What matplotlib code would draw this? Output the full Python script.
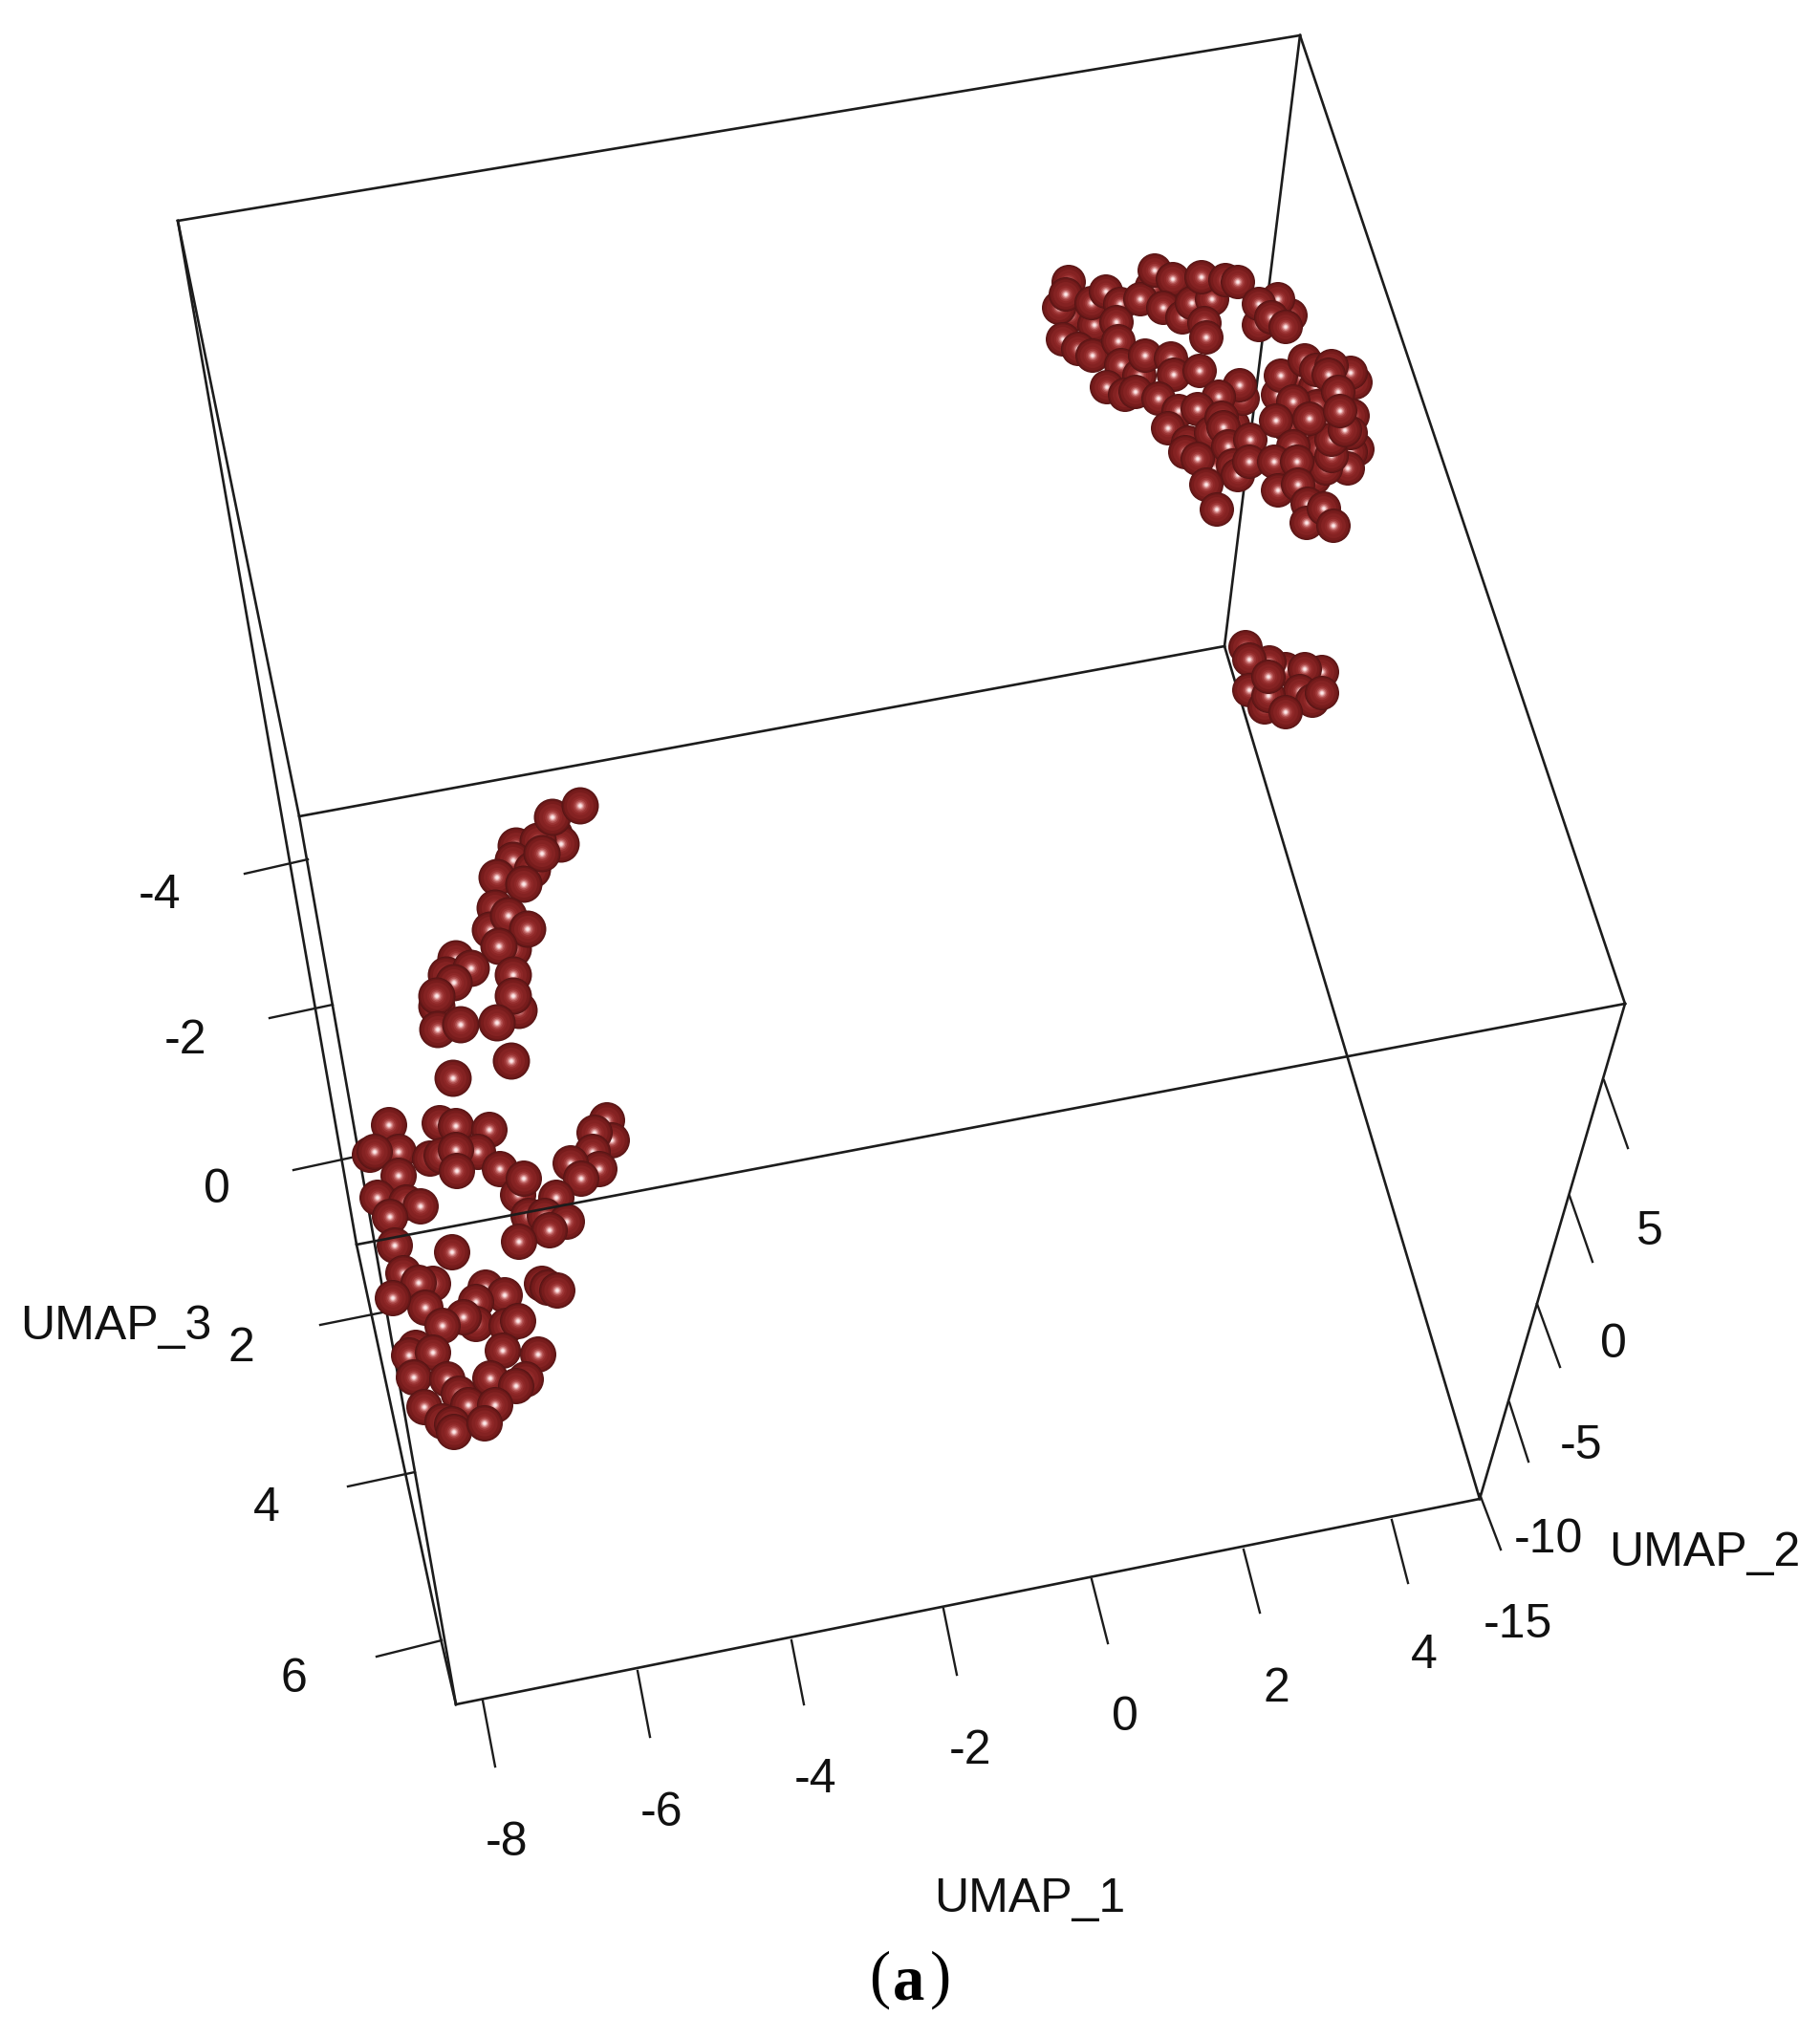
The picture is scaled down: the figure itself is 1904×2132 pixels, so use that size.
import numpy as np
import matplotlib
matplotlib.use('Agg')
import matplotlib.pyplot as plt

# the scene is a projected 3D plot, so everything is read in picture pixels
cluster_a_x = [1400, 1385, 1405, 1415, 1370, 1355, 1385, 1395, 1370, 1405, 1350, 1362, 1376, 1386, 1365, 1347, 1380,
               1375, 1400, 1418, 1420, 1398, 1378, 1240, 1252, 1268, 1265, 1270, 1290, 1262, 1325, 1340, 1205, 1120,
               1155, 1108, 1118, 1115, 1145, 1142, 1157, 1172, 1168, 1112, 1128, 1143, 1170, 1173, 1193, 1208, 1227,
               1217, 1237, 1247, 1268, 1257, 1282, 1295, 1260, 1262, 1350, 1337, 1317, 1317, 1330, 1345, 1192, 1198,
               1225, 1228, 1255, 1158, 1177, 1188, 1212, 1300, 1297, 1275, 1233, 1253, 1222, 1243, 1240, 1267, 1278,
               1280, 1253, 1285, 1290, 1295, 1262, 1308, 1307, 1273, 1413, 1413, 1410, 1387, 1393, 1393, 1407, 1337,
               1340, 1353, 1365, 1377, 1413, 1393, 1370, 1390, 1400, 1402, 1335, 1353, 1333, 1357, 1337, 1358, 1368,
               1367, 1385, 1395]
cluster_a_y = [395, 405, 430, 435, 410, 440, 460, 445, 480, 470, 400, 395, 405, 440, 455, 445, 470,
               500, 480, 400, 470, 420, 425, 300, 305, 300, 475, 490, 445, 430, 325, 325, 300, 330,
               325, 322, 295, 308, 340, 317, 305, 318, 337, 355, 365, 372, 357, 382, 313, 283, 292,
               322, 332, 317, 313, 290, 293, 295, 338, 353, 330, 313, 340, 318, 332, 342, 393, 372,
               375, 392, 388, 405, 413, 410, 417, 417, 403, 415, 430, 428, 448, 463, 473, 453, 437,
               447, 480, 467, 487, 497, 507, 460, 483, 533, 473, 453, 490, 490, 477, 460, 450, 413,
               393, 420, 377, 387, 390, 383, 438, 392, 410, 430, 440, 467, 483, 483, 513, 507, 527,
               547, 532, 550]

cluster_b_x = [1303, 1345, 1328, 1307, 1383, 1365, 1307, 1360, 1373, 1323, 1327, 1327, 1383, 1345]
cluster_b_y = [677, 700, 693, 690, 703, 700, 722, 723, 733, 740, 728, 708, 725, 745]

cluster_c_x = [580, 587, 540, 563, 578, 537, 557, 567, 520, 548, 518, 513, 532, 537, 552, 522, 477, 467, 493, 475,
               457, 457, 458, 482, 543, 537, 537, 520, 607, 535, 474]
cluster_c_y = [873, 883, 885, 880, 855, 900, 910, 893, 918, 925, 950, 973, 958, 993, 972, 990, 1003, 1020, 1013, 1028,
               1053, 1042, 1077, 1072, 1057, 1020, 1042, 1070, 843, 1110, 1128]

cluster_d_x = [407, 417, 387, 392, 417, 460, 477, 512, 450, 462, 500, 477, 478, 523, 542, 548, 635, 640, 622, 620,
               627, 597, 608, 582, 553, 570, 593, 575, 543, 395, 425, 440, 408, 413, 473, 422, 453, 438, 445, 411,
               508, 528, 498, 498, 485, 463, 567, 573, 583, 530, 542, 526, 563, 435, 428, 453, 433, 468, 480, 513,
               550, 540, 444, 490, 518, 463, 473, 475, 507]
cluster_d_y = [1177, 1205, 1208, 1205, 1230, 1175, 1178, 1182, 1212, 1209, 1205, 1203, 1225, 1223, 1250, 1233, 1172, 1193, 1185, 1205,
               1223, 1217, 1233, 1253, 1272, 1272, 1278, 1287, 1299, 1253, 1258, 1262, 1273, 1303, 1310, 1332, 1343, 1342, 1368, 1358,
               1347, 1355, 1362, 1385, 1378, 1387, 1343, 1347, 1350, 1387, 1382, 1413, 1417, 1410, 1418, 1415, 1441, 1443, 1458, 1442,
               1443, 1450, 1472, 1470, 1470, 1487, 1490, 1498, 1489]

cluster_radius = [18, 18, 19.5, 19]

# box edges, drawn behind the spheres
back_edges_x = [[186, 1360], [1360, 1700], [1360, 1281], [1281, 313], [1281, 1548], [477, 1548], [1548, 1700],
                [186, 373, 461, 477], [186, 313, 477]]
back_edges_y = [[231, 37], [37, 1050], [37, 676], [676, 854], [676, 1568], [1783, 1568], [1568, 1050],
                [231, 1302, 1714, 1783], [231, 854, 1783]]
front_edge_x = [373, 1700]
front_edge_y = [1302, 1050]

x_tick_labels = ['-8', '-6', '-4', '-2', '0', '2', '4']
x_tick_start_x = [505, 667, 828, 987, 1142, 1301, 1456]
x_tick_start_y = [1779, 1748, 1716, 1683, 1652, 1621, 1590]
x_tick_end_x = [518, 680, 841, 1001, 1159, 1318, 1473]
x_tick_end_y = [1848, 1817, 1783, 1752, 1719, 1687, 1656]
x_label_x = [530, 692, 853, 1015, 1177, 1335, 1490]
x_label_y = [1928, 1897, 1862, 1832, 1797, 1767, 1732]

y_tick_labels = ['-15', '-10', '-5', '0', '5']
y_tick_start_x = [1548, 1579, 1608, 1642, 1678]
y_tick_start_y = [1563, 1467, 1364, 1251, 1130]
y_tick_end_x = [1570, 1599, 1632, 1666, 1703]
y_tick_end_y = [1621, 1529, 1430, 1320, 1201]
y_label_x = [1588, 1620, 1654, 1688, 1726]
y_label_y = [1700, 1611, 1513, 1407, 1289]

z_tick_labels = ['-4', '-2', '0', '2', '4', '6']
z_tick_start_x = [256, 282, 307, 335, 364, 394]
z_tick_start_y = [914, 1065, 1224, 1386, 1555, 1733]
z_tick_end_x = [322, 348, 372, 405, 434, 462]
z_tick_end_y = [899, 1051, 1210, 1372, 1540, 1716]
z_label_x = [167, 194, 227, 252, 279, 307]
z_label_y = [937, 1089, 1245, 1411, 1578, 1757]

# shading of one ball: fraction of radius -> colour, from the rim in
shade_r = [1.0, 0.95, 0.87, 0.72, 0.52, 0.4, 0.3, 0.22, 0.15, 0.09]
shade_c = ['#571515', '#661818', '#771c1c', '#842222', '#8e2727', '#9c3535', '#b25252', '#ce7e7e', '#ebb6b6', '#fbe8e8']

LINE = '#1c1c1c'
TEXT = '#111111'
FONT = 'Liberation Sans'


def main():
    fig = plt.figure(figsize=(19.04, 21.32), dpi=100)
    ax = fig.add_axes([0, 0, 1, 1])
    ax.set_xlim(0, 1904)
    ax.set_ylim(2132, 0)
    ax.axis('off')

    for xs, ys in zip(back_edges_x, back_edges_y):
        ax.plot(xs, ys, color=LINE, lw=1.9, zorder=1)
    ax.plot(front_edge_x, front_edge_y, color=LINE, lw=1.9, zorder=3)

    ticks = [(x_tick_start_x, x_tick_start_y, x_tick_end_x, x_tick_end_y),
             (y_tick_start_x, y_tick_start_y, y_tick_end_x, y_tick_end_y),
             (z_tick_start_x, z_tick_start_y, z_tick_end_x, z_tick_end_y)]
    for x0, y0, x1, y1 in ticks:
        for a, b, c, d in zip(x0, y0, x1, y1):
            ax.plot([a, c], [b, d], color=LINE, lw=1.7, zorder=1)

    clusters = [(cluster_a_x, cluster_a_y), (cluster_b_x, cluster_b_y),
                (cluster_c_x, cluster_c_y), (cluster_d_x, cluster_d_y)]
    for (xs, ys), radius in zip(clusters, cluster_radius):
        # one collection, so each ball's rings stay together in draw order
        n = len(shade_r)
        px = np.repeat(xs, n)
        py = np.repeat(ys, n)
        sizes = np.tile([(2 * radius * r * 72 / 100) ** 2 for r in shade_r], len(xs))
        colors = shade_c * len(xs)
        ax.scatter(px, py, s=sizes, c=colors, linewidths=0, zorder=2)

    labels = [(x_tick_labels, x_label_x, x_label_y), (y_tick_labels, y_label_x, y_label_y),
              (z_tick_labels, z_label_x, z_label_y)]
    for texts, xs, ys in labels:
        for t, a, b in zip(texts, xs, ys):
            ax.text(a, b, t, fontsize=36, family=FONT, color=TEXT, ha='center', va='center')

    ax.text(1077, 1987, 'UMAP_1', fontsize=36, family=FONT, color=TEXT, ha='center', va='center')
    ax.text(1783, 1625, 'UMAP_2', fontsize=36, family=FONT, color=TEXT, ha='center', va='center')
    ax.text(121, 1388, 'UMAP_3', fontsize=36, family=FONT, color=TEXT, ha='center', va='center')

    ax.text(920, 2071, '(', fontsize=48, family='Liberation Serif', ha='center', va='center')
    ax.text(951, 2075, 'a', fontsize=48, family='Liberation Serif', weight='bold', ha='center', va='center')
    ax.text(984, 2071, ')', fontsize=48, family='Liberation Serif', ha='center', va='center')

    fig.savefig('out.png', dpi=100)


main()
